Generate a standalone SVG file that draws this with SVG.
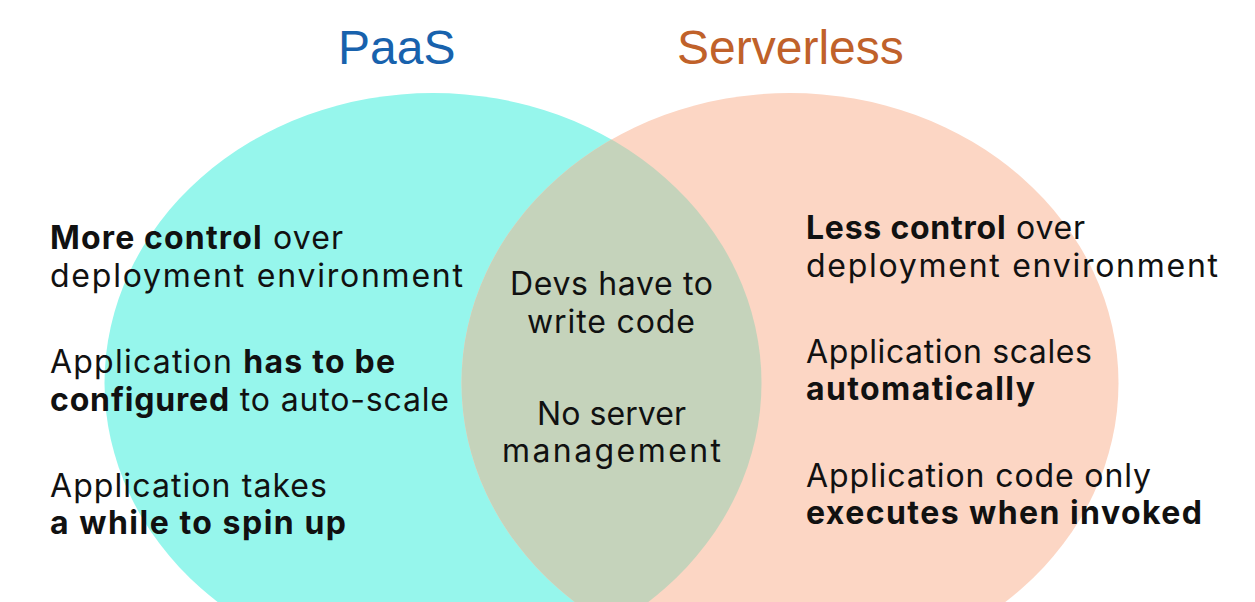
<svg xmlns="http://www.w3.org/2000/svg" width="1255" height="602" viewBox="0 0 1255 602">
<style>
.title{font-family:"Liberation Sans",Arial,sans-serif;font-size:48px}
.t{font-family:Inter,"Noto Sans",sans-serif;font-size:32px;fill:#111;font-weight:400}
.b{font-weight:700}
</style>
<defs>
<clipPath id="clipL"><ellipse cx="433" cy="383" rx="328.5" ry="290"/></clipPath>
</defs>
<rect width="1255" height="602" fill="#ffffff"/>
<g id="paas">
<ellipse cx="433" cy="383" rx="328.5" ry="290" fill="#96f6ec"/>
</g>
<g id="serverless">
<ellipse cx="790" cy="383" rx="328.5" ry="290" fill="#fcd6c4"/>
</g>
<g id="overlap">
<ellipse cx="790" cy="383" rx="328.5" ry="290" fill="#c5d3bb" clip-path="url(#clipL)"/>
</g>
<g id="titles">
<text class="title" x="338" y="64" fill="#1862ad">PaaS</text>
<text class="title" x="677" y="64" fill="#c0612a">Serverless</text>
</g>
<g id="paas-text">
<text class="t" x="50" y="249" textLength="293" lengthAdjust="spacing"><tspan class="b">More control</tspan> over</text>
<text class="t" x="50" y="287" textLength="413" lengthAdjust="spacing">deployment environment</text>
<text class="t" x="50" y="373" textLength="345" lengthAdjust="spacing">Application <tspan class="b">has to be</tspan></text>
<text class="t" x="50" y="411" textLength="399" lengthAdjust="spacing"><tspan class="b">configured</tspan> to auto-scale</text>
<text class="t" x="50" y="497" textLength="277" lengthAdjust="spacing">Application takes</text>
<text class="t" x="50" y="534" textLength="296" lengthAdjust="spacing"><tspan class="b">a while to spin up</tspan></text>
</g>
<g id="shared-text">
<text class="t" x="510" y="295" textLength="203" lengthAdjust="spacing">Devs have to</text>
<text class="t" x="527" y="333" textLength="168" lengthAdjust="spacing">write code</text>
<text class="t" x="537" y="425" textLength="149" lengthAdjust="spacing">No server</text>
<text class="t" x="502" y="462" textLength="219" lengthAdjust="spacing">management</text>
</g>
<g id="serverless-text">
<text class="t" x="806" y="239" textLength="279" lengthAdjust="spacing"><tspan class="b">Less control</tspan> over</text>
<text class="t" x="806" y="277" textLength="412" lengthAdjust="spacing">deployment environment</text>
<text class="t" x="806" y="363" textLength="286" lengthAdjust="spacing">Application scales</text>
<text class="t" x="806" y="400" textLength="229" lengthAdjust="spacing"><tspan class="b">automatically</tspan></text>
<text class="t" x="806" y="487" textLength="345" lengthAdjust="spacing">Application code only</text>
<text class="t" x="806" y="524" textLength="396" lengthAdjust="spacing"><tspan class="b">executes when invoked</tspan></text>
</g>
</svg>
